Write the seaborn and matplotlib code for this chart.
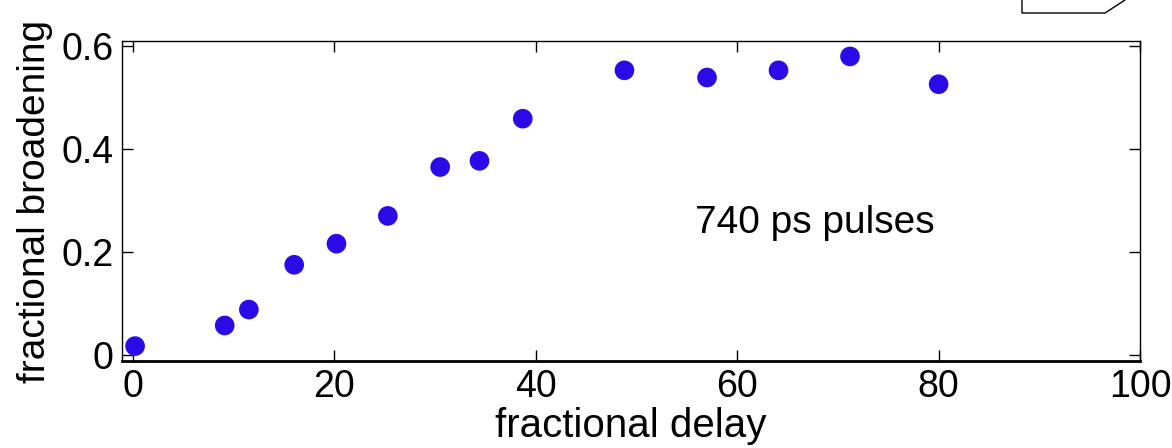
import matplotlib
matplotlib.use("Agg")
import matplotlib.pyplot as plt
import seaborn as sns
import pandas as pd

# values
delay = [0.2, 9.1, 11.5, 16.0, 20.2, 25.3, 30.5, 34.4, 38.7, 48.8, 57.0, 64.1, 71.2, 80.0]
broadening = [0.017, 0.057, 0.088, 0.175, 0.216, 0.270, 0.365, 0.377, 0.459, 0.553, 0.539, 0.553, 0.580, 0.526]
x_ticks = [0, 20, 40, 60, 80, 100]
y_ticks = [0, 0.2, 0.4, 0.6]
y_tick_labels = ["0", "0.2", "0.4", "0.6"]

df = pd.DataFrame({"delay": delay, "broadening": broadening})

sns.set_style("white")
plt.rcParams["font.family"] = ["Liberation Sans", "DejaVu Sans"]
plt.rcParams["text.color"] = "black"
plt.rcParams["axes.labelcolor"] = "black"

fig = plt.figure(figsize=(11.72, 4.48), dpi=100)
ax = fig.add_axes([122 / 1172, 1 - 361 / 448, (1140 - 122) / 1172, (361 - 41) / 448])

sns.scatterplot(data=df, x="delay", y="broadening", ax=ax, color="#2a0ae6",
                s=200, edgecolor="none", legend=False)

ax.set_xlim(-1.1, 100)
ax.set_ylim(-0.012, 0.61)
ax.set_xticks(x_ticks)
ax.set_yticks(y_ticks)
ax.set_yticklabels(y_tick_labels)
ax.tick_params(axis="both", direction="in", length=8, width=1, labelsize=27,
               top=True, right=True, bottom=True, left=True, pad=6, colors="black")
ax.tick_params(axis="x", pad=6)
for s in ax.spines.values():
    s.set_color("black")
    s.set_linewidth(1)
ax.spines["bottom"].set_linewidth(2)

ax.set_xlabel("fractional delay", fontsize=29, labelpad=1)
ax.set_ylabel("fractional broadening", fontsize=28, labelpad=6)
ax.text(55.8, 0.237, "740 ps pulses", fontsize=28)

# part of a box cut off at the top right of the figure
fig.add_artist(plt.Line2D([1022 / 1172, 1022 / 1172, 1105 / 1172, 1125 / 1172],
                          [1.0, 1 - 13 / 448, 1 - 13 / 448, 1.0],
                          transform=fig.transFigure, color="black", lw=1))

fig.savefig("out.png", dpi=100)
